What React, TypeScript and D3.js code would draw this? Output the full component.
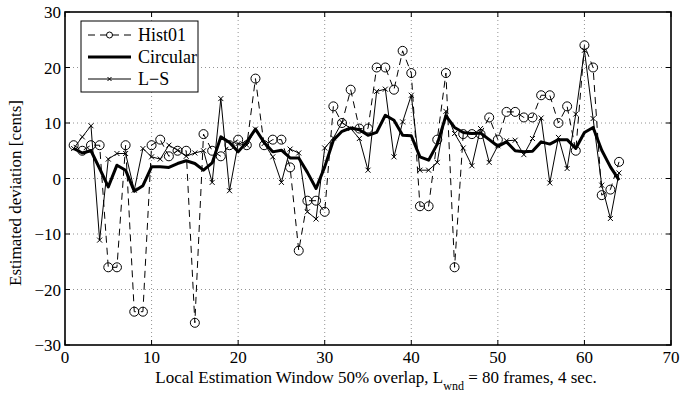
import React from "react";
import * as d3 from "d3";

const hist01 = [6,5,6,6,-16,-16,6,-24,-24,6,7,4,5,5,-26,8,5,4,6,7,6,18,6,7,7,2,-13,-4,-4,-6,13,10,16,9,9,20,20,16,23,19,-5,-5,7,19,-16,8,8,8,11,7,12,12,11,11,15,15,10,13,5,24,20,-3,-2,3];
const circular = [5.4,4.6,5,1.8,-1.5,2.4,1.5,-2.3,-1.3,2.1,2.1,2,2.7,3.2,2.7,1.5,2.8,7.5,6.5,4.8,6.6,8.9,6.5,4.8,5.1,3.7,3.7,1.1,-1.8,2.1,6.9,8.5,9.1,8.8,7.8,8.3,11.4,10.5,7.8,7.7,3.9,3.3,6.2,11.3,9.2,8.3,8.1,8.2,7,5.8,6.6,5,4.8,4.9,6.6,6.2,7,7,5.4,8.3,9.2,5.1,2.1,-0.3];
const ls = [5.4,7.5,9.5,-11.1,3.5,4.5,4.5,-2.1,5.4,3.9,3.5,6,5.1,4,4.6,5,-0.7,14.4,-2.2,6.3,6,8.9,6.3,3.9,-0.7,5.3,4.6,-6,-7.3,5.5,7.3,10.1,9,7.2,1.5,15.7,16.1,3.9,10.2,15,1.5,1.5,2.9,12.1,8.1,5.5,2.3,9,2.9,5.9,6.8,6.9,4.3,7.2,10.9,-0.8,7.4,1.8,11.6,23.1,10.8,-1.2,-7.2,1];
const xTicks = [0,10,20,30,40,50,60,70];
const yTicks = [-30,-20,-10,0,10,20,30];
const legendLabels = ["Hist01", "Circular", "L\u2212S"];

const W = 682, H = 394;
const L = 65, R = 671, T = 12, B = 345;
const FONT = '"Liberation Serif", "DejaVu Serif", "Times New Roman", Times, serif';

export default function App() {
  const x = d3.scaleLinear().domain([0, 70]).range([L, R]);
  const y = d3.scaleLinear().domain([-30, 30]).range([B, T]);
  const line = d3.line<number>().x((_, i) => x(i + 1)).y((d) => y(d));
  const fmt = (v: number) => (v < 0 ? "\u2212" + Math.abs(v) : String(v));
  const xMark = (cx: number, cy: number, s: number, k: string) => (
    <path key={k} d={`M${cx - s},${cy - s}L${cx + s},${cy + s}M${cx - s},${cy + s}L${cx + s},${cy - s}`} stroke="#000" strokeWidth={1} />
  );
  const lx0 = 88, lx1 = 131, lmid = (lx0 + lx1) / 2;
  const ly = [35, 57, 79];
  const ts = { fontFamily: FONT };
  return (
    <svg width={W} height={H} style={{ position: "absolute", left: 0, top: 0, background: "#fff", fontFamily: FONT }}>
      <rect x={0} y={0} width={W} height={H} fill="#fff" />
      {xTicks.slice(1, -1).map((t) => (
        <line key={"gx" + t} x1={x(t)} x2={x(t)} y1={T} y2={B} stroke="#777" strokeWidth={0.8} strokeDasharray="1 3" />
      ))}
      {yTicks.slice(1, -1).map((t) => (
        <line key={"gy" + t} x1={L} x2={R} y1={y(t)} y2={y(t)} stroke="#777" strokeWidth={0.8} strokeDasharray="1 3" />
      ))}
      <path d={line(hist01) || ""} fill="none" stroke="#000" strokeWidth={1} strokeDasharray="7 5" />
      {hist01.map((d, i) => (
        <circle key={"h" + i} cx={x(i + 1)} cy={y(d)} r={4.5} fill="none" stroke="#000" strokeWidth={1} />
      ))}
      <path d={line(ls) || ""} fill="none" stroke="#000" strokeWidth={1} />
      {ls.map((d, i) => xMark(x(i + 1), y(d), 2.5, "l" + i))}
      <path d={line(circular) || ""} fill="none" stroke="#000" strokeWidth={3} strokeLinejoin="round" />
      <rect x={L} y={T} width={R - L} height={B - T} fill="none" stroke="#000" strokeWidth={1.6} />
      {xTicks.map((t) => (
        <g key={"tx" + t}>
          <line x1={x(t)} x2={x(t)} y1={B} y2={B - 5} stroke="#000" />
          <line x1={x(t)} x2={x(t)} y1={T} y2={T + 5} stroke="#000" />
          <text x={x(t)} y={363} fontSize={17} textAnchor="middle" style={ts}>{t}</text>
        </g>
      ))}
      {yTicks.map((t) => (
        <g key={"ty" + t}>
          <line x1={L} x2={L + 5} y1={y(t)} y2={y(t)} stroke="#000" />
          <line x1={R} x2={R - 5} y1={y(t)} y2={y(t)} stroke="#000" />
          <text x={61} y={y(t) + 6} fontSize={17} textAnchor="end" style={ts}>{fmt(t)}</text>
        </g>
      ))}
      <text x={376} y={383} fontSize={17} textAnchor="middle" style={ts}>
        Local Estimation Window 50% overlap, L<tspan fontSize={12} dy={7}>wnd</tspan><tspan dy={-7}> = 80 frames, 4 sec.</tspan>
      </text>
      <text transform={`translate(21,193) rotate(-90)`} fontSize={17} textAnchor="middle" style={ts}>Estimated deviation [cents]</text>
      <rect x={81} y={21} width={117} height={71} fill="#fff" stroke="#000" strokeWidth={1} />
      <line x1={lx0} x2={lx1} y1={ly[0]} y2={ly[0]} stroke="#000" strokeWidth={1} strokeDasharray="7 5" />
      <circle cx={lmid} cy={ly[0]} r={3} fill="#fff" stroke="#000" strokeWidth={1} />
      <line x1={lx0} x2={lx1} y1={ly[1]} y2={ly[1]} stroke="#000" strokeWidth={3} />
      <line x1={lx0} x2={lx1} y1={ly[2]} y2={ly[2]} stroke="#000" strokeWidth={1} />
      {xMark(lmid, ly[2], 2, "lm")}
      {legendLabels.map((s, i) => (
        <text key={s} x={138} y={ly[i] + 6} fontSize={18} style={ts}>{s}</text>
      ))}
    </svg>
  );
}
